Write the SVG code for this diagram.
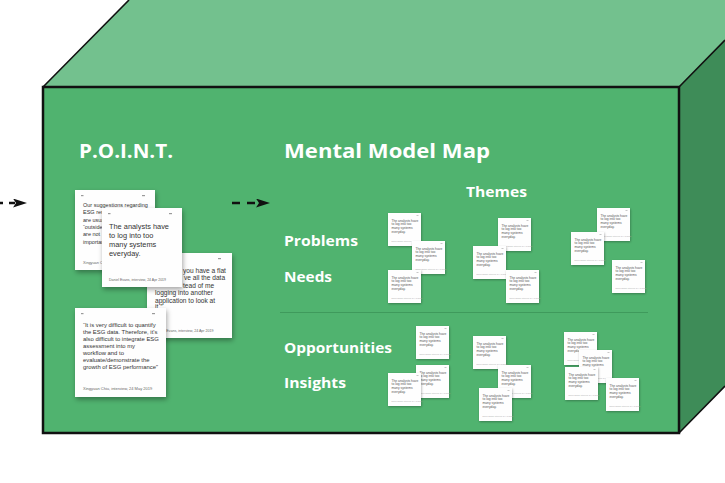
<svg xmlns="http://www.w3.org/2000/svg" xmlns:xlink="http://www.w3.org/1999/xlink" width="725" height="483" viewBox="0 0 725 483">
<style>
.h1{font-family:"Open Sans","Liberation Sans",sans-serif;font-weight:700;fill:#fff;font-size:20px}
.h2{font-family:"Open Sans","Liberation Sans",sans-serif;font-weight:700;fill:#fff;font-size:14.5px}
.ct{font-family:"Liberation Sans","Open Sans",sans-serif;fill:#333}
.ft{font-family:"Liberation Sans",sans-serif;fill:#666}
.nt{font-family:"Liberation Sans",sans-serif;fill:#555;font-size:3.3px}
.nf{font-family:"Liberation Sans",sans-serif;fill:#aaa;font-size:1.9px}
.card{fill:#fefefe;filter:url(#sh)}
.mk{fill:#9a9a9a}
.conn{fill:none;stroke:#111;stroke-width:2.3;marker-end:url(#ah)}
</style>
<defs>
<filter id="sh" x="-25%" y="-25%" width="160%" height="160%">
<feDropShadow dx="1" dy="2.5" stdDeviation="2.5" flood-color="#000" flood-opacity="0.35"/>
</filter>
<filter id="shs" x="-20%" y="-20%" width="150%" height="150%">
<feDropShadow dx="0.6" dy="1" stdDeviation="0.8" flood-color="#000" flood-opacity="0.3"/>
</filter>
<marker id="ah" viewBox="0 0 14 9" refX="3" refY="4.5" markerWidth="14" markerHeight="9" markerUnits="userSpaceOnUse" orient="auto">
<path d="M0,0 L14,4.5 L0,9 L3,4.5 Z" fill="#111"/>
</marker>
<g id="note">
<rect width="33" height="33" fill="#fefefe" filter="url(#shs)"/>
<rect x="28.5" y="2" width="2" height="0.8" fill="#bbb"/>
<text class="nt" x="3.5" y="8.5">The analysts have</text>
<text class="nt" x="3.5" y="12.2">to log into too</text>
<text class="nt" x="3.5" y="15.9">many systems</text>
<text class="nt" x="3.5" y="19.6">everyday.</text>
<text class="nf" x="3.5" y="29">Daniel Evans, interview, 24 Apr 2019</text>
</g>
</defs>
<rect width="725" height="483" fill="#fff"/>
<g id="box">
<polygon points="43,87 129,0 725,0 725,40 679,87" fill="#73c18e"/>
<polygon points="679,87 725,40 725,386 679,433" fill="#3e8c58"/>
<rect x="43" y="87" width="636" height="346" fill="#50b36f" stroke="#111" stroke-width="2.5"/>
<path d="M43,87 L129,0 M679,87 L725,40 M679,433 L725,386" stroke="#111" stroke-width="1.6" fill="none"/>
</g>
<g id="titles">
<text id="t-point" class="h1" x="79" y="158" textLength="94" lengthAdjust="spacingAndGlyphs">P.O.I.N.T.</text>
<text id="t-mmm" class="h1" x="284" y="158" textLength="206" lengthAdjust="spacingAndGlyphs">Mental Model Map</text>
<text id="t-themes" class="h2" x="466" y="197" textLength="61" lengthAdjust="spacingAndGlyphs">Themes</text>
<text id="t-problems" class="h2" x="284" y="246" textLength="74" lengthAdjust="spacingAndGlyphs">Problems</text>
<text id="t-needs" class="h2" x="284" y="282" textLength="48" lengthAdjust="spacingAndGlyphs">Needs</text>
<text id="t-opp" class="h2" x="284" y="353" textLength="108" lengthAdjust="spacingAndGlyphs">Opportunities</text>
<text id="t-insights" class="h2" x="284" y="388" textLength="62" lengthAdjust="spacingAndGlyphs">Insights</text>
<line x1="280" y1="312.5" x2="648" y2="312.5" stroke="#3f9a5c" stroke-width="1"/>
</g>
<g id="connectors">
<path class="conn" d="M-3,203 H16" stroke-dasharray="6 6"/>
<path class="conn" d="M232,203 H259" stroke-dasharray="8 7"/>
</g>
<g id="card-1">
<rect class="card" x="75" y="190" width="80" height="80"/>
<rect class="mk" x="81" y="195" width="2.5" height="1.2"/>
<rect class="mk" x="142" y="195" width="3" height="1.2"/>
<g class="ct" font-size="5.5">
<text x="83" y="207">Our suggestions regarding</text>
<text x="83" y="214.3">ESG research</text>
<text x="83" y="221.6">are usually</text>
<text x="83" y="228.9">“outside</text>
<text x="83" y="236.2">are not</text>
<text x="83" y="243.5">important</text>
</g>
<text class="ft" x="83" y="264" font-size="3.8">Xingyuan Chiu, interview, 24 May 2019</text>
</g>
<g id="card-3">
<rect class="card" x="147" y="253" width="85" height="85"/>
<rect class="mk" x="218" y="258" width="3" height="1.2"/>
<g class="ct" font-size="6.6">
<text x="183" y="272.5">you have a flat</text>
<text x="184" y="280">ve all the data</text>
<text x="183" y="287.5">tead of me</text>
<text x="155" y="295">logging into another</text>
<text x="155" y="302.5">application to look at</text>
<text x="155" y="309">it.”</text>
</g>
<text class="ft" x="155" y="332" font-size="3.6">Daniel Evans, interview, 24 Apr 2019</text>
</g>
<g id="card-2">
<rect class="card" x="102" y="208" width="80" height="79"/>
<rect class="mk" x="108" y="213" width="2.5" height="1.2"/>
<rect class="mk" x="169" y="213" width="3" height="1.2"/>
<g class="ct" font-size="7.4">
<text x="109" y="229">The analysts have</text>
<text x="109" y="238">to log into too</text>
<text x="109" y="247">many systems</text>
<text x="109" y="256">everyday.</text>
</g>
<text class="ft" x="109" y="281" font-size="3.5">Daniel Evans, interview, 24 Apr 2019</text>
</g>
<g id="card-4">
<rect class="card" x="75" y="308" width="91" height="89"/>
<rect class="mk" x="81" y="313" width="2.5" height="1.2"/>
<rect class="mk" x="152" y="313" width="3" height="1.2"/>
<g class="ct" font-size="5.9">
<text x="83" y="327">“It is very difficult to quantify</text>
<text x="83" y="334">the ESG data. Therefore, it's</text>
<text x="83" y="341">also difficult to integrate ESG</text>
<text x="83" y="348">assessment into my</text>
<text x="83" y="355">workflow and to</text>
<text x="83" y="362">evaluate/demonstrate the</text>
<text x="83" y="369">growth of ESG performance”</text>
</g>
<text class="ft" x="83" y="390" font-size="4">Xingyuan Chiu, interview, 24 May 2019</text>
</g>
<g id="note-a1" transform="translate(388,213)"><use xlink:href="#note" href="#note"/></g>
<g id="note-a2" transform="translate(412,241)"><use xlink:href="#note" href="#note"/></g>
<g id="note-a3" transform="translate(388,270)"><use xlink:href="#note" href="#note"/></g>
<g id="note-b1" transform="translate(498,218)"><use xlink:href="#note" href="#note"/></g>
<g id="note-b2" transform="translate(473,246)"><use xlink:href="#note" href="#note"/></g>
<g id="note-b3" transform="translate(506,270)"><use xlink:href="#note" href="#note"/></g>
<g id="note-c1" transform="translate(597,208)"><use xlink:href="#note" href="#note"/></g>
<g id="note-c2" transform="translate(571,232)"><use xlink:href="#note" href="#note"/></g>
<g id="note-c3" transform="translate(612,260)"><use xlink:href="#note" href="#note"/></g>
<g id="note-d1" transform="translate(416,326)"><use xlink:href="#note" href="#note"/></g>
<g id="note-d2" transform="translate(416,365)"><use xlink:href="#note" href="#note"/></g>
<g id="note-d3" transform="translate(388,373)"><use xlink:href="#note" href="#note"/></g>
<g id="note-e1" transform="translate(473,336)"><use xlink:href="#note" href="#note"/></g>
<g id="note-e2" transform="translate(498,365)"><use xlink:href="#note" href="#note"/></g>
<g id="note-e3" transform="translate(479,388)"><use xlink:href="#note" href="#note"/></g>
<g id="note-f1" transform="translate(564,332)"><use xlink:href="#note" href="#note"/></g>
<g id="note-f2" transform="translate(579,350)"><use xlink:href="#note" href="#note"/></g>
<g id="note-f3" transform="translate(565,367)"><use xlink:href="#note" href="#note"/></g>
<g id="note-f4" transform="translate(606,378)"><use xlink:href="#note" href="#note"/></g>
</svg>
